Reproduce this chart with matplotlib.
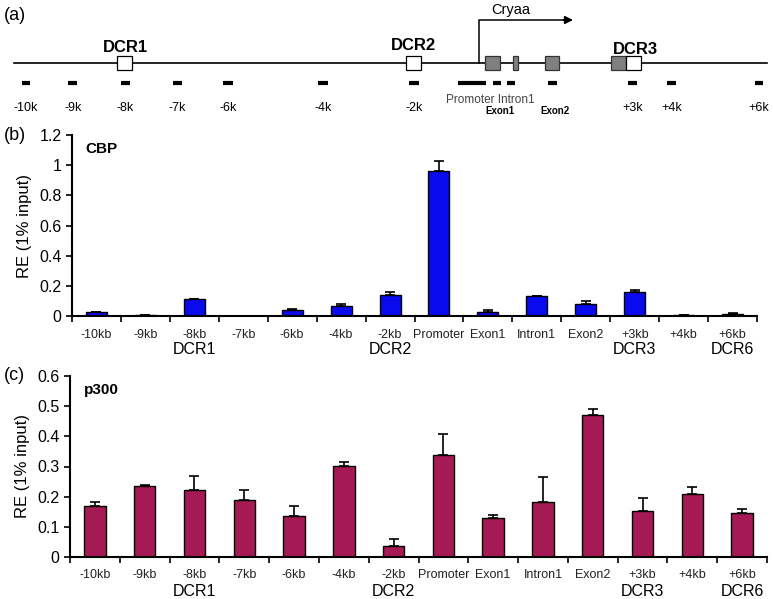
import numpy as np
import matplotlib
matplotlib.use("Agg")
import matplotlib.pyplot as plt
from matplotlib.patches import Rectangle
from matplotlib.ticker import FuncFormatter

plt.rcParams['font.family'] = ['Liberation Sans', 'DejaVu Sans']

# ---- data -------------------------------------------------------------
regions = ["-10kb", "-9kb", "-8kb", "-7kb", "-6kb", "-4kb", "-2kb", "Promoter",
           "Exon1", "Intron1", "Exon2", "+3kb", "+4kb", "+6kb"]
dcr_names = {2: "DCR1", 6: "DCR2", 11: "DCR3", 13: "DCR6"}

cbp = [0.025, 0.008, 0.115, 0.0, 0.04, 0.068, 0.14, 0.96,
       0.025, 0.13, 0.08, 0.16, 0.004, 0.01]
cbp_err = [0.0, 0.0, 0.0, 0.0, 0.006, 0.01, 0.017, 0.07,
           0.015, 0.005, 0.017, 0.013, 0.003, 0.012]

p300 = [0.168, 0.237, 0.222, 0.19, 0.137, 0.302, 0.037, 0.338,
        0.13, 0.183, 0.47, 0.154, 0.208, 0.147]
p300_err = [0.015, 0.003, 0.047, 0.032, 0.031, 0.012, 0.022, 0.069,
            0.009, 0.083, 0.02, 0.042, 0.023, 0.011]

# schematic map of the locus (panel a), in map units across the figure
map_line = (14, 767)
dcr_boxes = [(117, 132), (406, 421), (626, 641)]
dcr_label_pos = [(125, 47, "DCR1"), (413, 46, "DCR2"), (635, 49, "DCR3")]
exon_boxes = [(485, 500), (513, 518), (545, 559), (611, 626)]
amplicons = [(22, 30), (68, 77), (121, 130), (173, 182), (223, 233), (318, 328),
             (409, 419), (458, 486), (493, 501), (507, 515), (548, 557),
             (628, 637), (667, 676), (755, 763)]
amp_labels = [(26, "-10k"), (73, "-9k"), (125, "-8k"), (177, "-7k"), (228, "-6k"),
              (323, "-4k"), (414, "-2k"), (633, "+3k"), (672, "+4k"), (759, "+6k")]
tss_x, arrow_end = 479, 573

W, H = 773, 599
fig = plt.figure(figsize=(W / 100, H / 100), dpi=100)


def px_axes(left, top, right, bottom):
    return fig.add_axes([left / W, 1 - bottom / H, (right - left) / W, (bottom - top) / H])


# ---- panel (a): locus map ----------------------------------------------
ax_a = px_axes(0, 0, W, 125)
ax_a.set_xlim(0, W)
ax_a.set_ylim(125, 0)
ax_a.axis("off")

ax_a.plot(map_line, [63, 63], color="black", lw=1.2, zorder=1)
for x0, x1 in exon_boxes:
    ax_a.add_patch(Rectangle((x0, 56), x1 - x0, 14, facecolor="#808080",
                             edgecolor="#333333", lw=0.9, zorder=2))
for x0, x1 in dcr_boxes:
    ax_a.add_patch(Rectangle((x0, 56), x1 - x0, 14, facecolor="white",
                             edgecolor="black", lw=0.9, zorder=2))
for x, y, s in dcr_label_pos:
    ax_a.text(x, y, s, ha="center", va="center", fontsize=12, fontweight="bold")
for x0, x1 in amplicons:
    ax_a.plot([x0, x1], [83, 83], color="black", lw=3, solid_capstyle="butt")
for x, s in amp_labels:
    ax_a.text(x, 108, s, ha="center", va="center", fontsize=9)
ax_a.text(490, 100, "Promoter Intron1", ha="center", va="center", fontsize=8.5,
          color="#444444")
ax_a.text(500, 111, "Exon1", ha="center", va="center", fontsize=7, fontweight="bold")
ax_a.text(555, 111, "Exon2", ha="center", va="center", fontsize=7, fontweight="bold")

ax_a.plot([tss_x, tss_x, arrow_end - 8], [63, 20, 20], color="black", lw=1.1)
ax_a.annotate("", xy=(arrow_end, 20), xytext=(arrow_end - 10, 20),
              arrowprops=dict(arrowstyle="-|>", color="black", lw=1.1,
                              mutation_scale=12, shrinkA=0, shrinkB=0))
ax_a.text(511, 10, "Cryaa", ha="center", va="center", fontsize=10.5)
ax_a.text(4, 15, "(a)", ha="left", va="center", fontsize=13)


# ---- panels (b) and (c): bar charts ------------------------------------
def bar_panel(ax, vals, errs, color, ymax, ystep, name):
    x = np.arange(len(regions))
    ax.bar(x, vals, width=0.43, color=color, edgecolor="black", lw=1.0, zorder=2)
    ax.errorbar(x, vals, yerr=[np.zeros(len(errs)), errs], fmt="none",
                ecolor="black", elinewidth=1.2, capsize=3.5, capthick=1.2, zorder=3)
    ax.set_xlim(-0.5, len(regions) - 0.5)
    ax.set_ylim(0, ymax)
    ax.set_yticks(np.arange(0, ymax + ystep / 2, ystep))
    ax.yaxis.set_major_formatter(FuncFormatter(lambda v, p: f"{v:g}"))
    ax.set_xticks(x, regions)
    ax.set_xticks(np.arange(-0.5, len(regions)), minor=True)
    ax.tick_params(axis="x", which="major", length=0, pad=9, labelsize=9,
                   colors="#222222")
    ax.tick_params(axis="x", which="minor", length=4, width=1.2, direction="out")
    ax.tick_params(axis="y", length=4, width=1.2, labelsize=11.5)
    for s in ("top", "right"):
        ax.spines[s].set_visible(False)
    for s in ("left", "bottom"):
        ax.spines[s].set_linewidth(1.5)
    for i, s in dcr_names.items():
        ax.annotate(s, xy=(i, 0), xycoords="data", xytext=(0, -34),
                    textcoords="offset pixels", ha="center", va="center",
                    fontsize=11.5, annotation_clip=False)
    ax.set_ylabel("RE (1% input)", fontsize=12, labelpad=5)
    ax.text(0.02, 0.92, name, transform=ax.transAxes, fontsize=11,
            fontweight="bold", ha="left", va="center")


ax_b = px_axes(72, 135, 757, 316)
bar_panel(ax_b, cbp, cbp_err, "#0A0AEE", 1.2, 0.2, "CBP")
ax_c = px_axes(70, 376, 767, 557)
bar_panel(ax_c, p300, p300_err, "#A51A55", 0.6, 0.1, "p300")

fig.text(4 / W, 1 - 135 / H, "(b)", ha="left", va="center", fontsize=13)
fig.text(4 / W, 1 - 376 / H, "(c)", ha="left", va="center", fontsize=13)

fig.savefig("out.png", dpi=100)
